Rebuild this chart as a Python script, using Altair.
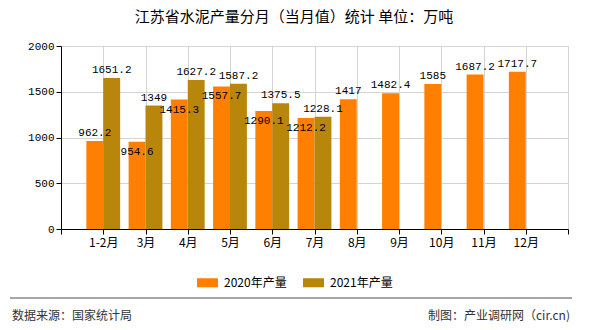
import altair as alt
import pandas as pd

months = ["1-2月", "3月", "4月", "5月", "6月", "7月", "8月", "9月", "10月", "11月", "12月"]
v2020 = [962.2, 954.6, 1415.3, 1557.7, 1290.1, 1212.2, 1417, 1482.4, 1585, 1687.2, 1717.7]
v2021 = [1651.2, 1349, 1627.2, 1587.2, 1375.5, 1228.1, None, None, None, None, None]
series = ["2020年产量", "2021年产量"]
colors = ["#FF8000", "#B8860B"]
y_ticks = [0, 500, 1000, 1500, 2000]
title_text = "江苏省水泥产量分月（当月值）统计 单位：万吨"
source_text = "数据来源：国家统计局"
credit_text = "制图：产业调研网（cir.cn)"

rows = []
for i, m in enumerate(months):
    rows.append({"idx": i + 1, "month": m, "series": series[0], "value": v2020[i]})
    rows.append({"idx": i + 1, "month": m, "series": series[1], "value": v2021[i]})
df = pd.DataFrame(rows)

label_arr = "[''," + ",".join("'" + m + "'" for m in months) + ",'']"

W, H = 507, 183
MONO = "Liberation Mono"
CJK = "Noto Sans CJK SC"

base = alt.Chart(df).transform_filter("isValid(datum.value)").transform_calculate(
    x0="datum.idx + (datum.series == '" + series[0] + "' ? -0.4 : 0)"
).transform_calculate(
    x1="datum.x0 + 0.4", xm="datum.x0 + 0.2"
).transform_joinaggregate(
    vmax="max(value)", vmin="min(value)", n="count()", groupby=["idx"]
).transform_calculate(
    inside="datum.n == 2 && datum.series == '" + series[0] + "' && (datum.vmax - datum.vmin) < 500"
)

xscale = alt.Scale(domain=[0, 12], nice=False, zero=False)
yscale = alt.Scale(domain=[0, 2000], nice=False)

bars = base.mark_bar().encode(
    x=alt.X("x0:Q", scale=xscale, axis=alt.Axis(
        values=list(range(13)), labelExpr=label_arr + "[datum.value]", title=None,
        grid=True, gridColor="#d4d4d4", domainColor="#000", tickColor="#000",
        tickSize=5, labelFont=CJK, labelFontSize=12, labelColor="#000",
        labelPadding=3, labelOverlap=False)),
    x2="x1:Q",
    y=alt.Y("value:Q", scale=yscale, stack=None, axis=alt.Axis(
        values=y_ticks, format="d", title=None, grid=True, gridColor="#d4d4d4",
        domainColor="#000", tickColor="#000", tickSize=5, labelFont=MONO,
        labelFontSize=11, labelColor="#000", labelPadding=2)),
    y2=alt.datum(0),
    color=alt.Color("series:N", scale=alt.Scale(domain=series, range=colors),
                    legend=alt.Legend(orient="none", legendX=136, legendY=226,
                                      direction="horizontal", title=None,
                                      symbolType="M-1,-0.43L1,-0.43L1,0.43L-1,0.43Z",
                                      symbolSize=441, symbolStrokeWidth=0,
                                      labelFont=CJK, labelFontSize=12, labelColor="#000",
                                      labelOffset=6, columnPadding=16)),
)

lab_enc = dict(
    x=alt.X("xm:Q", scale=xscale),
    y=alt.Y("value:Q", scale=yscale),
    text=alt.Text("value:Q", format="~f"),
)

labels_above = base.transform_filter("!datum.inside").mark_text(
    font=MONO, fontSize=11, color="#000", dy=-5, baseline="alphabetic").encode(**lab_enc)
labels_inside = base.transform_filter("datum.inside").mark_text(
    font=MONO, fontSize=11, color="#000", dy=4, baseline="top").encode(**lab_enc)

tdf = pd.DataFrame({"t": [title_text]})
title = alt.Chart(tdf).mark_text(font=CJK, fontSize=15, color="#000", baseline="middle", align="center").encode(
    x=alt.value(233), y=alt.value(-29), text="t:N")

rule = alt.Chart(tdf).mark_rule(color="#888", strokeWidth=1.5).encode(
    x=alt.value(-51), x2=alt.value(511), y=alt.value(252))

src = alt.Chart(pd.DataFrame({"t": [source_text]})).mark_text(
    font=CJK, fontSize=12, color="#333", align="left", baseline="middle").encode(
    x=alt.value(-49), y=alt.value(270), text="t:N")

cred = alt.Chart(pd.DataFrame({"t": [credit_text]})).mark_text(
    font=CJK, fontSize=12, color="#333", align="right", baseline="middle").encode(
    x=alt.value(509), y=alt.value(270), text="t:N")

chart = alt.layer(bars, labels_above, labels_inside, title, rule, src, cred).properties(
    width=W, height=H,
    padding={"left": 61, "top": 46, "right": 22, "bottom": 101},
    autosize=alt.AutoSizeParams(type="none"),
    background="#fff",
).configure_view(stroke=None)

chart.save("out.html", embed_options={"renderer": "svg", "actions": False})
